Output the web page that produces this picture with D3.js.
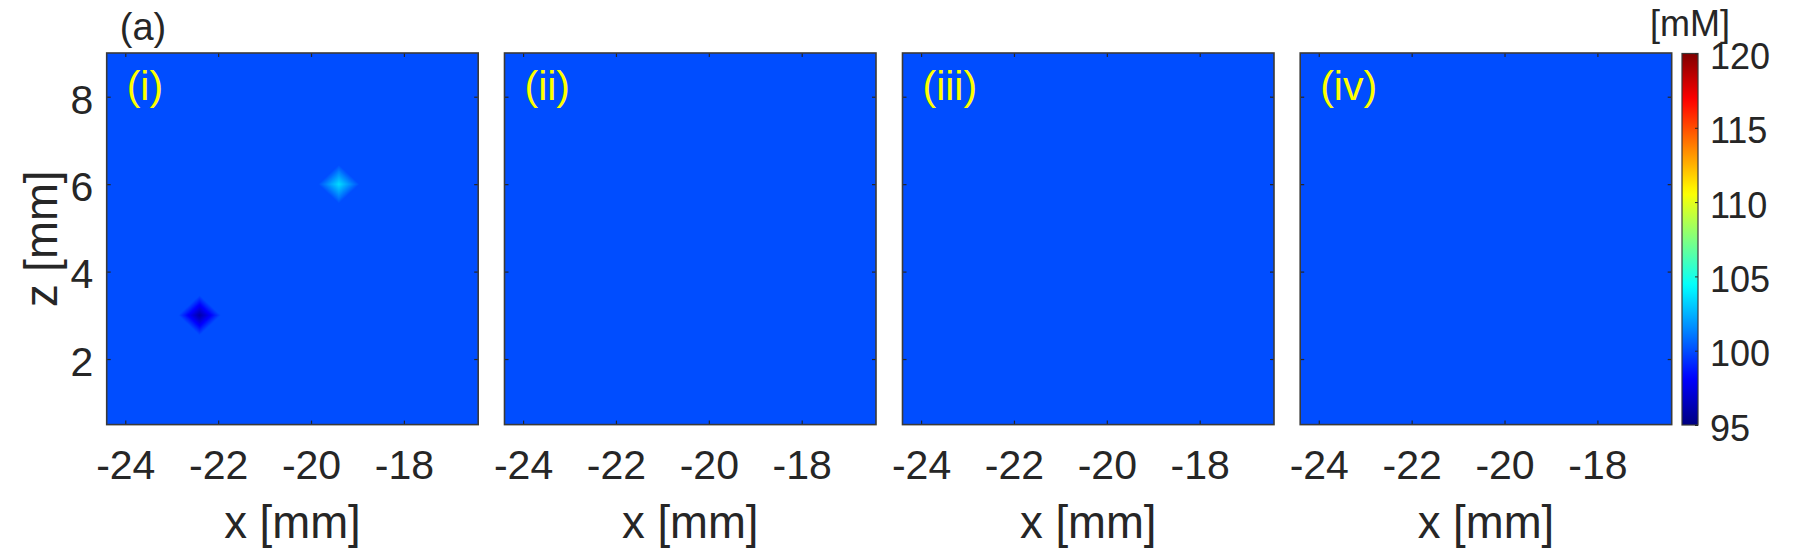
<!doctype html>
<html>
    <head>
        <title>concentration maps</title>
        <script src="https://d3js.org/d3.v7.min.js"></script>
        <style>
            body { margin:0; background:#fff; }
            text { font-family: "Liberation Sans", Arial, sans-serif; fill:#262626; }
        </style>
    </head>
    <body>
        <svg id="chart" width="1800" height="550"></svg>
        <script>
            // axis ranges [mm]
            const xDomain = [-24.4, -16.4];
            const zDomain = [0.5, 9];
            const xTicks = [-24, -22, -20, -18];
            const zTicks = [2, 4, 6, 8];

            // one entry per panel
            const panelLabels = ["(i)", "(ii)", "(iii)", "(iv)"];
            const backgroundValue = [100, 100, 100, 100];
            // local spots: position [mm], peak value [mM], half-diagonal [mm]
            const spotX = [[-22.4, -19.4], [], [], []];
            const spotZ = [[3, 6], [], [], []];
            const spotPeak = [[96.0, 103.5], [], [], []];
            const spotRadius = [[0.45, 0.45], [], [], []];

            // colorbar
            const cbDomain = [95, 120];
            const cbTicks = [95, 100, 105, 110, 115, 120];
            const cbUnit = "[mM]";

            // matlab jet
            function jet(t) {
                let c = v => Math.round(255 * Math.max(0, Math.min(1, v)));
                return d3.rgb(c(1.5 - Math.abs(4*t - 3)), c(1.5 - Math.abs(4*t - 2)), c(1.5 - Math.abs(4*t - 1))).formatHex();
            }
            let color = d3.scaleSequential(jet).domain(cbDomain);

            let svg = d3.select("#chart");

            let panelW = 371.5, panelH = 371.6, panelTop = 53;
            let lefts = [106.7, 504.5, 902.5, 1300.2];

            let x = d3.scaleLinear().domain(xDomain).range([0, panelW]);
            let z = d3.scaleLinear().domain(zDomain).range([panelH, 0]);

            panelLabels.forEach(function(lab, p) {
                let g = svg.append("g").attr("transform", "translate(" + lefts[p] + "," + panelTop + ")");

                g.append("rect").attr("width", panelW).attr("height", panelH)
                    .attr("fill", color(backgroundValue[p]));

                // spots as nested diamonds, value falls off linearly to the background
                let n = 40;
                spotX[p].forEach(function(sx, s) {
                    for (let k = 0; k < n; k++) {
                        let r = spotRadius[p][s] * (1 - k / n);
                        let v = backgroundValue[p] + (spotPeak[p][s] - backgroundValue[p]) * ((k + 0.5) / n);
                        let sz = spotZ[p][s];
                        let pts = [[sx - r, sz], [sx, sz + r], [sx + r, sz], [sx, sz - r]]
                            .map(d => [x(d[0]), z(d[1])].join(",")).join(" ");
                        g.append("polygon").attr("points", pts).attr("fill", color(v));
                    }
                });

                let xb = g.append("g").attr("transform", "translate(0," + panelH + ")")
                    .call(d3.axisBottom(x).tickValues(xTicks).tickSize(-4).tickPadding(25.5));
                g.append("g").call(d3.axisTop(x).tickValues(xTicks).tickSize(-4).tickFormat(""));
                let yl = g.append("g")
                    .call(d3.axisLeft(z).tickValues(zTicks).tickSize(-4).tickPadding(13.4)
                        .tickFormat(p == 0 ? d3.format("d") : ""));
                g.append("g").attr("transform", "translate(" + panelW + ",0)")
                    .call(d3.axisRight(z).tickValues(zTicks).tickSize(-4).tickFormat(""));

                g.selectAll(".domain").remove();
                g.selectAll(".tick line").attr("stroke", "#262626").attr("stroke-width", 1.2);
                g.selectAll(".tick text").attr("font-size", 41).attr("font-family", null).attr("fill", "#262626");
                yl.selectAll(".tick text").attr("dy", "0.4em");
                xb.selectAll(".tick text").text(d => d < 0 ? "-" + Math.abs(d) : d);

                g.append("rect").attr("width", panelW).attr("height", panelH)
                    .attr("fill", "none").attr("stroke", "#3a3a3a").attr("stroke-width", 1.6);

                g.append("text").attr("x", 20).attr("y", 47).attr("font-size", 41)
                    .style("fill", "#ffff00").text(lab);

                g.append("text").attr("x", panelW / 2).attr("y", 485).attr("font-size", 45.5)
                    .attr("text-anchor", "middle").text("x [mm]");
            });

            // z label and figure tag
            svg.append("text").attr("transform", "translate(57," + (panelTop + panelH / 2) + ") rotate(-90)")
                .attr("font-size", 45.5).attr("text-anchor", "middle").text("z [mm]");
            svg.append("text").attr("x", 143).attr("y", 40).attr("font-size", 38)
                .attr("text-anchor", "middle").text("(a)");

            // colorbar
            let cbX = 1682, cbW = 16, cbTop = 53.5, cbBot = 425;
            let cb = d3.scaleLinear().domain(cbDomain).range([cbBot, cbTop]);
            let grad = svg.append("defs").append("linearGradient").attr("id", "jetgrad")
                .attr("x1", 0).attr("y1", 1).attr("x2", 0).attr("y2", 0);
            d3.range(0, 1.0001, 0.02).forEach(function(t) {
                grad.append("stop").attr("offset", t)
                    .attr("stop-color", color(cbDomain[0] + t * (cbDomain[1] - cbDomain[0])));
            });
            svg.append("rect").attr("x", cbX).attr("y", cbTop).attr("width", cbW).attr("height", cbBot - cbTop)
                .attr("fill", "url(#jetgrad)").attr("stroke", "#3a3a3a").attr("stroke-width", 1.2);
            let cba = svg.append("g").attr("transform", "translate(" + (cbX + cbW) + ",0)")
                .call(d3.axisRight(cb).tickValues(cbTicks).tickSize(-3).tickPadding(12));
            cba.select(".domain").remove();
            cba.selectAll(".tick line").attr("stroke", "#262626");
            cba.selectAll(".tick text").attr("font-size", 36).attr("font-family", null)
                .attr("fill", "#262626").attr("dy", "0.42em");
            svg.append("text").attr("x", 1690).attr("y", 36).attr("font-size", 36)
                .attr("text-anchor", "middle").text(cbUnit);
        </script>
    </body>
</html>
